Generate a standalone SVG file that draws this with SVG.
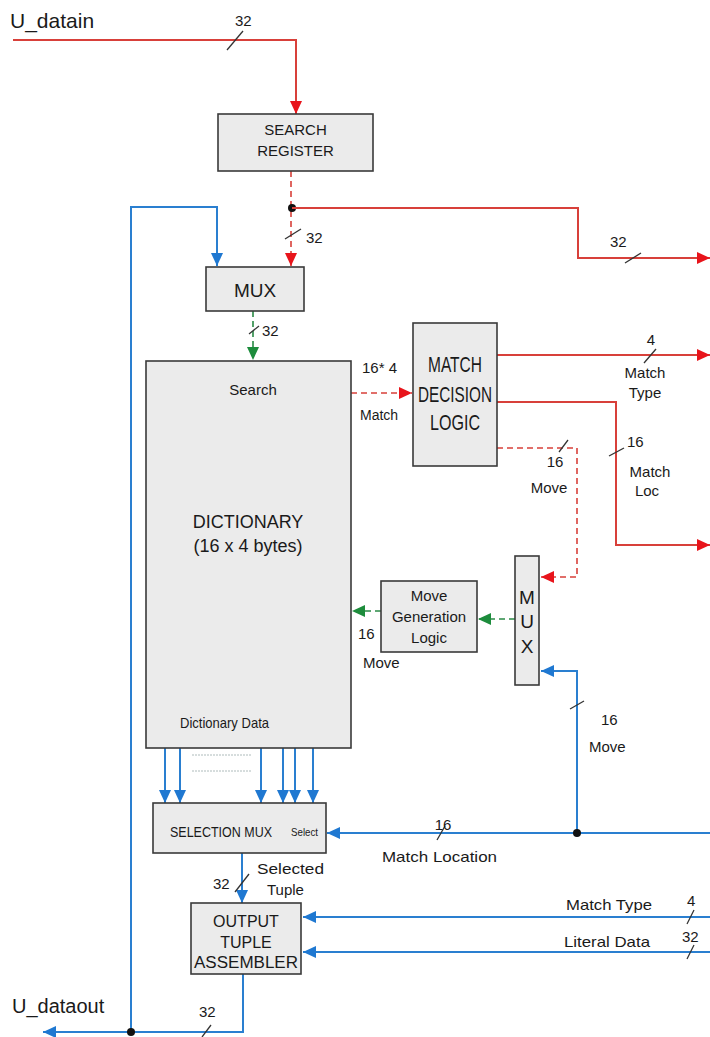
<svg xmlns="http://www.w3.org/2000/svg" width="710" height="1037" viewBox="0 0 710 1037">
<style>
.box{fill:#ebebeb;stroke:#3a3a3a;stroke-width:1.6}
.t{font-family:"Liberation Sans",Arial,sans-serif;fill:#1a1a1a}
.r{fill:none;stroke:#d8403a;stroke-width:2}
.rd{fill:none;stroke:#d8403a;stroke-width:1.6;stroke-dasharray:6 4}
.b{fill:none;stroke:#2a7fd0;stroke-width:2}
.gd{fill:none;stroke:#2a8a45;stroke-width:1.6;stroke-dasharray:6 4}
.s{stroke:#333;stroke-width:1.3}
.ar{marker-end:url(#ar)}
.ab{marker-end:url(#ab)}
.ag{marker-end:url(#ag)}
</style>
<defs>
<marker id="ar" markerUnits="userSpaceOnUse" markerWidth="14" markerHeight="14" refX="13" refY="7" orient="auto"><path d="M0,1 L13,7 L0,13 Z" fill="#e8141b"/></marker>
<marker id="ab" markerUnits="userSpaceOnUse" markerWidth="14" markerHeight="14" refX="13" refY="7" orient="auto"><path d="M0,1 L13,7 L0,13 Z" fill="#1f78d1"/></marker>
<marker id="ag" markerUnits="userSpaceOnUse" markerWidth="14" markerHeight="14" refX="13" refY="7" orient="auto"><path d="M0,1 L13,7 L0,13 Z" fill="#1d8c3c"/></marker>
</defs>

<g id="connectors">
  <polyline class="r ar" points="13,40 296,40 296,114"/>
  <line class="s" x1="227" y1="50" x2="243" y2="31"/>
  <polyline class="rd ar" points="291,171 291,266"/>
  <line class="s" x1="285" y1="239" x2="301" y2="229"/>
  <circle cx="292" cy="208" r="4" fill="#111"/>
  <polyline class="r ar" points="292,208 578,208 578,258 710,258"/>
  <line class="s" x1="625" y1="263" x2="641" y2="253"/>
  <polyline class="b ab" points="131,1032 131,207 217,207 217,266"/>
  <polyline class="gd ag" points="253,311 253,360"/>
  <line class="s" x1="249" y1="334" x2="259" y2="326"/>
  <polyline class="rd ar" points="351,393 412,393"/>
  <polyline class="r ar" points="497,355 710,355"/>
  <line class="s" x1="644" y1="363" x2="656" y2="349"/>
  <polyline class="r ar" points="497,402 616,402 616,545 710,545"/>
  <line class="s" x1="609" y1="456" x2="624" y2="448"/>
  <polyline class="rd ar" points="497,448 577,448 577,577 541,577"/>
  <line class="s" x1="559" y1="452" x2="568" y2="440"/>
  <polyline class="gd ag" points="515,619 478,619"/>
  <polyline class="gd ag" points="381,611 352,611"/>
  <polyline class="b ab" points="710,833 327,833"/>
  <line class="s" x1="437" y1="840" x2="445" y2="826"/>
  <polyline class="b ab" points="577,833 577,671 541,671"/>
  <line class="s" x1="570" y1="709" x2="584" y2="701"/>
  <circle cx="577" cy="833" r="4" fill="#111"/>
  <polyline class="b ab" points="165,748 165,803"/>
  <polyline class="b ab" points="180,748 180,803"/>
  <polyline class="b ab" points="261,748 261,803"/>
  <polyline class="b ab" points="283,748 283,803"/>
  <polyline class="b ab" points="295,748 295,803"/>
  <polyline class="b ab" points="313,748 313,803"/>
  <line x1="192" y1="755" x2="251" y2="755" stroke="#9aa" stroke-width="0.8" stroke-dasharray="2 1"/>
  <line x1="192" y1="771" x2="251" y2="771" stroke="#9aa" stroke-width="0.8" stroke-dasharray="2 1"/>
  <polyline class="b ab" points="242,853 242,903"/>
  <line class="s" x1="235" y1="892" x2="249" y2="874"/>
  <polyline class="b ab" points="710,917 303,917"/>
  <line class="s" x1="687" y1="924" x2="694" y2="910"/>
  <polyline class="b ab" points="710,952 303,952"/>
  <line class="s" x1="687" y1="959" x2="694" y2="945"/>
  <polyline class="b ab" points="243,974 243,1032 43,1032"/>
  <line class="s" x1="202" y1="1037" x2="211" y2="1025"/>
  <circle cx="131" cy="1032" r="4" fill="#111"/>
</g>

<g id="search-register">
  <rect class="box" x="218" y="114" width="155" height="57"/>
  <text class="t" x="295.5" y="135" font-size="15" text-anchor="middle">SEARCH</text>
  <text class="t" x="295.5" y="156" font-size="15" text-anchor="middle">REGISTER</text>
</g>

<g id="mux">
  <rect class="box" x="206" y="267" width="98" height="44"/>
  <text class="t" x="255" y="297" font-size="19" text-anchor="middle">MUX</text>
</g>

<g id="dictionary">
  <rect class="box" x="146" y="361" width="205" height="387"/>
  <text class="t" x="253" y="395" font-size="15" text-anchor="middle">Search</text>
  <text class="t" x="248" y="528" font-size="18" text-anchor="middle">DICTIONARY</text>
  <text class="t" x="248" y="552" font-size="18" text-anchor="middle">(16 x 4 bytes)</text>
  <text class="t" x="180" y="728" font-size="15" textLength="89" lengthAdjust="spacingAndGlyphs">Dictionary Data</text>
</g>

<g id="match-decision-logic">
  <rect class="box" x="413" y="323" width="84" height="143"/>
  <text class="t" x="455" y="372" font-size="22" text-anchor="middle" textLength="54" lengthAdjust="spacingAndGlyphs">MATCH</text>
  <text class="t" x="455" y="402" font-size="22" text-anchor="middle" textLength="74" lengthAdjust="spacingAndGlyphs">DECISION</text>
  <text class="t" x="455" y="430" font-size="22" text-anchor="middle" textLength="50" lengthAdjust="spacingAndGlyphs">LOGIC</text>
</g>

<g id="mux2">
  <rect class="box" x="515" y="556" width="24" height="129"/>
  <text class="t" x="527" y="604" font-size="19" text-anchor="middle">M</text>
  <text class="t" x="527" y="628" font-size="19" text-anchor="middle">U</text>
  <text class="t" x="527" y="653" font-size="19" text-anchor="middle">X</text>
</g>

<g id="move-generation-logic">
  <rect class="box" x="381" y="581" width="96" height="71"/>
  <text class="t" x="429" y="601" font-size="15" text-anchor="middle">Move</text>
  <text class="t" x="429" y="622" font-size="15" text-anchor="middle">Generation</text>
  <text class="t" x="429" y="643" font-size="15" text-anchor="middle">Logic</text>
</g>

<g id="selection-mux">
  <rect class="box" x="153" y="803" width="173" height="50"/>
  <text class="t" x="170" y="837" font-size="14.5" textLength="102" lengthAdjust="spacingAndGlyphs">SELECTION MUX</text>
  <text class="t" x="291" y="836" font-size="11.5" textLength="27" lengthAdjust="spacingAndGlyphs">Select</text>
</g>

<g id="output-tuple-assembler">
  <rect class="box" x="191" y="903" width="110" height="71"/>
  <text class="t" x="246" y="927" font-size="16" text-anchor="middle">OUTPUT</text>
  <text class="t" x="246" y="948" font-size="16" text-anchor="middle">TUPLE</text>
  <text class="t" x="246" y="968" font-size="16" text-anchor="middle" textLength="104" lengthAdjust="spacingAndGlyphs">ASSEMBLER</text>
</g>

<g id="labels">
  <text class="t" x="10" y="28" font-size="21">U_datain</text>
  <text class="t" x="235" y="26" font-size="15">32</text>
  <text class="t" x="306" y="243" font-size="15">32</text>
  <text class="t" x="610" y="247" font-size="15">32</text>
  <text class="t" x="262" y="336" font-size="15">32</text>
  <text class="t" x="362" y="373" font-size="15">16* 4</text>
  <text class="t" x="360" y="420" font-size="14">Match</text>
  <text class="t" x="651" y="345" font-size="15" text-anchor="middle">4</text>
  <text class="t" x="645" y="378" font-size="15" text-anchor="middle">Match</text>
  <text class="t" x="645" y="398" font-size="15" text-anchor="middle">Type</text>
  <text class="t" x="627" y="447" font-size="15">16</text>
  <text class="t" x="650" y="477" font-size="15" text-anchor="middle">Match</text>
  <text class="t" x="647" y="496" font-size="15" text-anchor="middle">Loc</text>
  <text class="t" x="555" y="467" font-size="15" text-anchor="middle">16</text>
  <text class="t" x="549" y="493" font-size="15" text-anchor="middle">Move</text>
  <text class="t" x="358" y="639" font-size="15">16</text>
  <text class="t" x="363" y="668" font-size="15">Move</text>
  <text class="t" x="601" y="725" font-size="15">16</text>
  <text class="t" x="589" y="752" font-size="15">Move</text>
  <text class="t" x="443" y="830" font-size="15" text-anchor="middle">16</text>
  <text class="t" x="382" y="862" font-size="15" textLength="115" lengthAdjust="spacingAndGlyphs">Match Location</text>
  <text class="t" x="257" y="874" font-size="15" textLength="67" lengthAdjust="spacingAndGlyphs">Selected</text>
  <text class="t" x="267" y="895" font-size="15">Tuple</text>
  <text class="t" x="213" y="889" font-size="15">32</text>
  <text class="t" x="566" y="910" font-size="15" textLength="86" lengthAdjust="spacingAndGlyphs">Match Type</text>
  <text class="t" x="687" y="906" font-size="15">4</text>
  <text class="t" x="564" y="947" font-size="15" textLength="86" lengthAdjust="spacingAndGlyphs">Literal Data</text>
  <text class="t" x="682" y="942" font-size="15">32</text>
  <text class="t" x="12" y="1013" font-size="20">U_dataout</text>
  <text class="t" x="199" y="1017" font-size="15">32</text>
</g>
</svg>
